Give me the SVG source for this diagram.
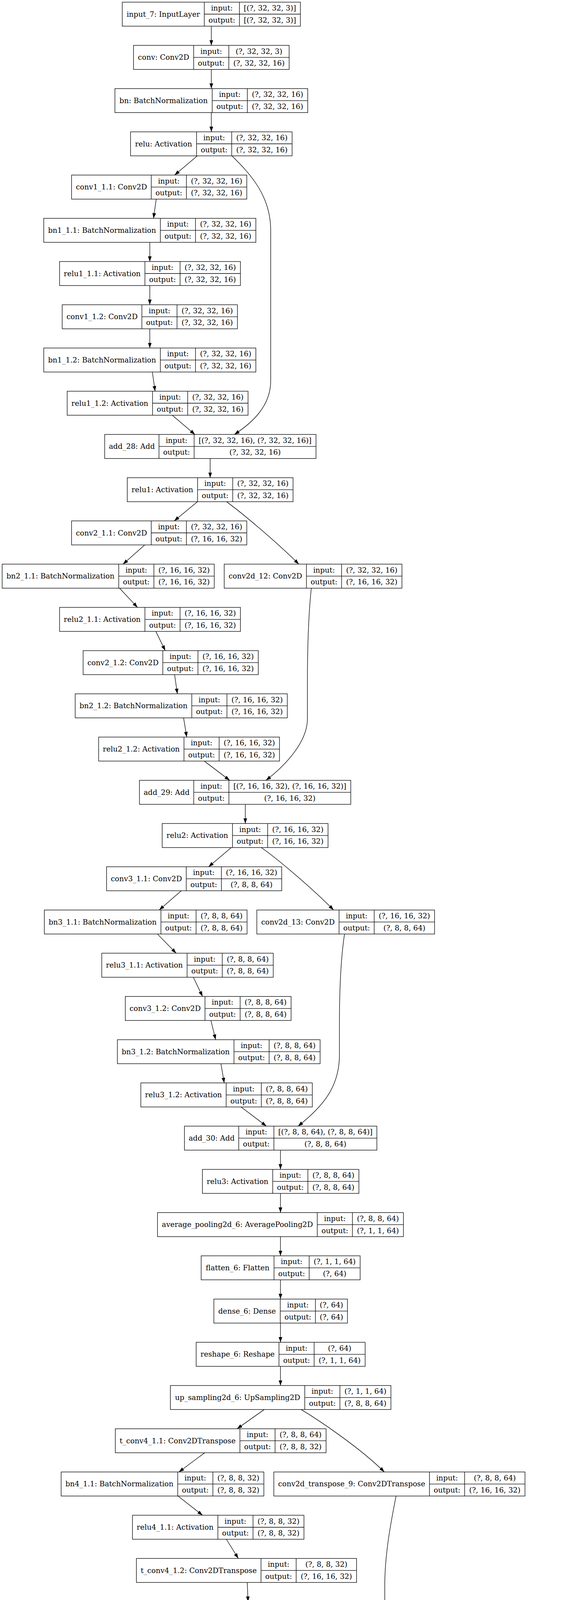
<svg xmlns="http://www.w3.org/2000/svg" width="1449" height="6381" viewBox="0 0 1449 6381">
<style>
.n rect{fill:#fff;stroke:#000;stroke-width:1.33}
.n path{fill:none;stroke:#000;stroke-width:1.33}
.n text{font-family:"DejaVu Serif","Liberation Serif",serif;font-size:18.67px;text-anchor:middle;fill:#000}
#edges path{fill:none;stroke:#000;stroke-width:1.33;marker-end:url(#arr)}
</style>
<defs>
<marker id="arr" markerUnits="userSpaceOnUse" viewBox="0 0 13.33 9.33" markerWidth="13.33" markerHeight="9.33" refX="13.33" refY="4.67" orient="auto"><path d="M0,0L13.33,4.67L0,9.33Z" fill="#000"/></marker>
</defs>
<rect width="1449" height="6381" fill="#fff"/>
<g id="edges">
<path d="M541,67L541,116.2"/>
<path d="M541,177.7L541,226.8"/>
<path d="M541,288.3L541,337.5"/>
<path d="M505,399L447,448.2"/>
<path d="M594,399C640,445 693,500 693,590L693,975C693,1040 645,1083 600,1112.2"/>
<path d="M400,509.7L393,558.9"/>
<path d="M383.5,620.4L383.5,669.5"/>
<path d="M383.5,731L383.5,780.2"/>
<path d="M383.5,841.7L383.5,890.9"/>
<path d="M390,952.4L397,1001.5"/>
<path d="M441,1063L499,1112.2"/>
<path d="M538,1173.7L538,1222.9"/>
<path d="M505.5,1284.4L446,1333.5"/>
<path d="M580,1284.4C615,1310 700,1380 765,1444.2"/>
<path d="M370.6,1395L315,1444.2"/>
<path d="M306,1505.7L352,1554.9"/>
<path d="M399,1616.4L423,1665.6"/>
<path d="M447,1727.1L454,1776.2"/>
<path d="M797,1505.7C790,1570 787,1650 787,1750L787,1840C787,1900 730,1960 681,1997.6"/>
<path d="M470,1837.7L478,1886.9"/>
<path d="M523,1948.4L588,1997.6"/>
<path d="M628,2059.1L628,2108.2"/>
<path d="M592,2169.7L534,2218.9"/>
<path d="M669,2169.7C705,2195 790,2265 854,2329.6"/>
<path d="M464,2280.4L407.6,2329.6"/>
<path d="M403,2391.1L451,2440.2"/>
<path d="M495,2501.7L518.5,2550.9"/>
<path d="M540,2612.4L552,2661.6"/>
<path d="M565.6,2723.1L574,2772.3"/>
<path d="M617,2833.8L682,2882.9"/>
<path d="M882,2391.1C873,2450 869,2530 869,2620L869,2700C869,2780 830,2830 763,2882.9"/>
<path d="M718,2944.4L718,2993.6"/>
<path d="M718,3055.1L718,3104.3"/>
<path d="M718,3165.8L718,3214.9"/>
<path d="M718,3276.4L718,3325.6"/>
<path d="M718,3387.1L718,3436.3"/>
<path d="M718,3497.8L718,3546.9"/>
<path d="M676.5,3608.4L607,3657.6"/>
<path d="M771,3608.4C815,3635 920,3705 984,3768.3"/>
<path d="M524,3719.1L458,3768.3"/>
<path d="M455.6,3829.8L518.5,3879"/>
<path d="M579.5,3940.5L610,3989.6"/>
<path d="M633,4051.1L635,4100.3"/>
<path d="M643,4161.8L650.6,4211"/>
<path d="M699,4272.5L763,4321.6"/>
<path d="M1014,3829.8C1000,3900 985,3980 985,4060L985,4150C985,4220 940,4270 855,4321.6"/>
<path d="M804,4383.1L804,4432.3"/>
<path d="M760,4493.8L690,4543"/>
<path d="M861,4493.8C905,4520 1015,4590 1079.5,4653.6"/>
<path d="M601.7,4604.5L536,4653.6"/>
<path d="M535,4715.1L601,4764.3"/>
<path d="M665.4,4825.8L696,4875"/>
<path d="M722,4936.5L723.6,4985.7"/>
<path d="M732,5047.2L739,5096.3"/>
<path d="M787,5157.8L852,5207"/>
<path d="M1106,4715.1C1090,4790 1077,4880 1077,4960L1077,5010C1077,5100 1030,5150 944.5,5207"/>
<path d="M893,5268.5L893,5317.7"/>
<path d="M848,5379.2L781,5428.3"/>
<path d="M968.6,5379.2C1025,5410 1053.6,5460 1053.6,5520L1053.6,5950C1053.6,6010 1010,6055 956.6,6092.4"/>
<path d="M734,5489.8L734,5539"/>
<path d="M733,5600.5L733,5649.7"/>
<path d="M733,5711.2L733,5760.3"/>
<path d="M735,5821.8L736.6,5871"/>
<path d="M746,5932.5L755,5981.7"/>
<path d="M802,6043.2L861,6092.4"/>
<path d="M898,6153.9L898,6203"/>
<path d="M898,6264.5L898,6313.7"/>
</g>
<g id="input_7" class="n" transform="translate(313,5.5)"><rect width="456" height="61.5"/><path d="M210,0V61.5M300,0V61.5M210,30.75H456"/><text x="105" y="37">input_7: InputLayer</text><text x="255" y="21.5">input:</text><text x="255" y="52.3">output:</text><text x="378" y="21.5">[(?, 32, 32, 3)]</text><text x="378" y="52.3">[(?, 32, 32, 3)]</text></g>
<g id="conv" class="n" transform="translate(341.75,116.2)"><rect width="398.5" height="61.5"/><path d="M154,0V61.5M244,0V61.5M154,30.75H398.5"/><text x="77" y="37">conv: Conv2D</text><text x="199" y="21.5">input:</text><text x="199" y="52.3">output:</text><text x="321.25" y="21.5">(?, 32, 32, 3)</text><text x="321.25" y="52.3">(?, 32, 32, 16)</text></g>
<g id="bn" class="n" transform="translate(294.25,226.8)"><rect width="493.5" height="61.5"/><path d="M249,0V61.5M339,0V61.5M249,30.75H493.5"/><text x="124.5" y="37">bn: BatchNormalization</text><text x="294" y="21.5">input:</text><text x="294" y="52.3">output:</text><text x="416.25" y="21.5">(?, 32, 32, 16)</text><text x="416.25" y="52.3">(?, 32, 32, 16)</text></g>
<g id="relu" class="n" transform="translate(334.25,337.5)"><rect width="413.5" height="61.5"/><path d="M169,0V61.5M259,0V61.5M169,30.75H413.5"/><text x="84.5" y="37">relu: Activation</text><text x="214" y="21.5">input:</text><text x="214" y="52.3">output:</text><text x="336.25" y="21.5">(?, 32, 32, 16)</text><text x="336.25" y="52.3">(?, 32, 32, 16)</text></g>
<g id="conv1_1.1" class="n" transform="translate(183.25,448.2)"><rect width="448.5" height="61.5"/><path d="M204,0V61.5M294,0V61.5M204,30.75H448.5"/><text x="102" y="37">conv1_1.1: Conv2D</text><text x="249" y="21.5">input:</text><text x="249" y="52.3">output:</text><text x="371.25" y="21.5">(?, 32, 32, 16)</text><text x="371.25" y="52.3">(?, 32, 32, 16)</text></g>
<g id="bn1_1.1" class="n" transform="translate(112,558.9)"><rect width="543" height="61.5"/><path d="M298.5,0V61.5M388.5,0V61.5M298.5,30.75H543"/><text x="149.25" y="37">bn1_1.1: BatchNormalization</text><text x="343.5" y="21.5">input:</text><text x="343.5" y="52.3">output:</text><text x="465.75" y="21.5">(?, 32, 32, 16)</text><text x="465.75" y="52.3">(?, 32, 32, 16)</text></g>
<g id="relu1_1.1" class="n" transform="translate(152.5,669.5)"><rect width="463" height="61.5"/><path d="M218.5,0V61.5M308.5,0V61.5M218.5,30.75H463"/><text x="109.25" y="37">relu1_1.1: Activation</text><text x="263.5" y="21.5">input:</text><text x="263.5" y="52.3">output:</text><text x="385.75" y="21.5">(?, 32, 32, 16)</text><text x="385.75" y="52.3">(?, 32, 32, 16)</text></g>
<g id="conv1_1.2" class="n" transform="translate(159.25,780.2)"><rect width="448.5" height="61.5"/><path d="M204,0V61.5M294,0V61.5M204,30.75H448.5"/><text x="102" y="37">conv1_1.2: Conv2D</text><text x="249" y="21.5">input:</text><text x="249" y="52.3">output:</text><text x="371.25" y="21.5">(?, 32, 32, 16)</text><text x="371.25" y="52.3">(?, 32, 32, 16)</text></g>
<g id="bn1_1.2" class="n" transform="translate(112,890.9)"><rect width="543" height="61.5"/><path d="M298.5,0V61.5M388.5,0V61.5M298.5,30.75H543"/><text x="149.25" y="37">bn1_1.2: BatchNormalization</text><text x="343.5" y="21.5">input:</text><text x="343.5" y="52.3">output:</text><text x="465.75" y="21.5">(?, 32, 32, 16)</text><text x="465.75" y="52.3">(?, 32, 32, 16)</text></g>
<g id="relu1_1.2" class="n" transform="translate(172,1001.5)"><rect width="463" height="61.5"/><path d="M218.5,0V61.5M308.5,0V61.5M218.5,30.75H463"/><text x="109.25" y="37">relu1_1.2: Activation</text><text x="263.5" y="21.5">input:</text><text x="263.5" y="52.3">output:</text><text x="385.75" y="21.5">(?, 32, 32, 16)</text><text x="385.75" y="52.3">(?, 32, 32, 16)</text></g>
<g id="add_28" class="n" transform="translate(268,1112.2)"><rect width="541" height="61.5"/><path d="M139,0V61.5M229,0V61.5M139,30.75H541"/><text x="69.5" y="37">add_28: Add</text><text x="184" y="21.5">input:</text><text x="184" y="52.3">output:</text><text x="385" y="21.5">[(?, 32, 32, 16), (?, 32, 32, 16)]</text><text x="385" y="52.3">(?, 32, 32, 16)</text></g>
<g id="relu1" class="n" transform="translate(325.75,1222.9)"><rect width="424.5" height="61.5"/><path d="M180,0V61.5M270,0V61.5M180,30.75H424.5"/><text x="90" y="37">relu1: Activation</text><text x="225" y="21.5">input:</text><text x="225" y="52.3">output:</text><text x="347.25" y="21.5">(?, 32, 32, 16)</text><text x="347.25" y="52.3">(?, 32, 32, 16)</text></g>
<g id="conv2_1.1" class="n" transform="translate(183.25,1333.5)"><rect width="448.5" height="61.5"/><path d="M204,0V61.5M294,0V61.5M204,30.75H448.5"/><text x="102" y="37">conv2_1.1: Conv2D</text><text x="249" y="21.5">input:</text><text x="249" y="52.3">output:</text><text x="371.25" y="21.5">(?, 32, 32, 16)</text><text x="371.25" y="52.3">(?, 16, 16, 32)</text></g>
<g id="bn2_1.1" class="n" transform="translate(5.5,1444.2)"><rect width="543" height="61.5"/><path d="M298.5,0V61.5M388.5,0V61.5M298.5,30.75H543"/><text x="149.25" y="37">bn2_1.1: BatchNormalization</text><text x="343.5" y="21.5">input:</text><text x="343.5" y="52.3">output:</text><text x="465.75" y="21.5">(?, 16, 16, 32)</text><text x="465.75" y="52.3">(?, 16, 16, 32)</text></g>
<g id="conv2d_12" class="n" transform="translate(574,1444.2)"><rect width="455" height="61.5"/><path d="M210.5,0V61.5M300.5,0V61.5M210.5,30.75H455"/><text x="105.25" y="37">conv2d_12: Conv2D</text><text x="255.5" y="21.5">input:</text><text x="255.5" y="52.3">output:</text><text x="377.75" y="21.5">(?, 32, 32, 16)</text><text x="377.75" y="52.3">(?, 16, 16, 32)</text></g>
<g id="relu2_1.1" class="n" transform="translate(152.5,1554.9)"><rect width="463" height="61.5"/><path d="M218.5,0V61.5M308.5,0V61.5M218.5,30.75H463"/><text x="109.25" y="37">relu2_1.1: Activation</text><text x="263.5" y="21.5">input:</text><text x="263.5" y="52.3">output:</text><text x="385.75" y="21.5">(?, 16, 16, 32)</text><text x="385.75" y="52.3">(?, 16, 16, 32)</text></g>
<g id="conv2_1.2" class="n" transform="translate(212.75,1665.6)"><rect width="448.5" height="61.5"/><path d="M204,0V61.5M294,0V61.5M204,30.75H448.5"/><text x="102" y="37">conv2_1.2: Conv2D</text><text x="249" y="21.5">input:</text><text x="249" y="52.3">output:</text><text x="371.25" y="21.5">(?, 16, 16, 32)</text><text x="371.25" y="52.3">(?, 16, 16, 32)</text></g>
<g id="bn2_1.2" class="n" transform="translate(192.5,1776.2)"><rect width="543" height="61.5"/><path d="M298.5,0V61.5M388.5,0V61.5M298.5,30.75H543"/><text x="149.25" y="37">bn2_1.2: BatchNormalization</text><text x="343.5" y="21.5">input:</text><text x="343.5" y="52.3">output:</text><text x="465.75" y="21.5">(?, 16, 16, 32)</text><text x="465.75" y="52.3">(?, 16, 16, 32)</text></g>
<g id="relu2_1.2" class="n" transform="translate(252.5,1886.9)"><rect width="463" height="61.5"/><path d="M218.5,0V61.5M308.5,0V61.5M218.5,30.75H463"/><text x="109.25" y="37">relu2_1.2: Activation</text><text x="263.5" y="21.5">input:</text><text x="263.5" y="52.3">output:</text><text x="385.75" y="21.5">(?, 16, 16, 32)</text><text x="385.75" y="52.3">(?, 16, 16, 32)</text></g>
<g id="add_29" class="n" transform="translate(357,1997.6)"><rect width="541" height="61.5"/><path d="M139,0V61.5M229,0V61.5M139,30.75H541"/><text x="69.5" y="37">add_29: Add</text><text x="184" y="21.5">input:</text><text x="184" y="52.3">output:</text><text x="385" y="21.5">[(?, 16, 16, 32), (?, 16, 16, 32)]</text><text x="385" y="52.3">(?, 16, 16, 32)</text></g>
<g id="relu2" class="n" transform="translate(415.25,2108.2)"><rect width="424.5" height="61.5"/><path d="M180,0V61.5M270,0V61.5M180,30.75H424.5"/><text x="90" y="37">relu2: Activation</text><text x="225" y="21.5">input:</text><text x="225" y="52.3">output:</text><text x="347.25" y="21.5">(?, 16, 16, 32)</text><text x="347.25" y="52.3">(?, 16, 16, 32)</text></g>
<g id="conv3_1.1" class="n" transform="translate(272.75,2218.9)"><rect width="448.5" height="61.5"/><path d="M204,0V61.5M294,0V61.5M204,30.75H448.5"/><text x="102" y="37">conv3_1.1: Conv2D</text><text x="249" y="21.5">input:</text><text x="249" y="52.3">output:</text><text x="371.25" y="21.5">(?, 16, 16, 32)</text><text x="371.25" y="52.3">(?, 8, 8, 64)</text></g>
<g id="bn3_1.1" class="n" transform="translate(113.5,2329.6)"><rect width="519" height="61.5"/><path d="M298.5,0V61.5M388.5,0V61.5M298.5,30.75H519"/><text x="149.25" y="37">bn3_1.1: BatchNormalization</text><text x="343.5" y="21.5">input:</text><text x="343.5" y="52.3">output:</text><text x="453.75" y="21.5">(?, 8, 8, 64)</text><text x="453.75" y="52.3">(?, 8, 8, 64)</text></g>
<g id="conv2d_13" class="n" transform="translate(657.5,2329.6)"><rect width="455" height="61.5"/><path d="M210.5,0V61.5M300.5,0V61.5M210.5,30.75H455"/><text x="105.25" y="37">conv2d_13: Conv2D</text><text x="255.5" y="21.5">input:</text><text x="255.5" y="52.3">output:</text><text x="377.75" y="21.5">(?, 16, 16, 32)</text><text x="377.75" y="52.3">(?, 8, 8, 64)</text></g>
<g id="relu3_1.1" class="n" transform="translate(260.5,2440.2)"><rect width="439" height="61.5"/><path d="M218.5,0V61.5M308.5,0V61.5M218.5,30.75H439"/><text x="109.25" y="37">relu3_1.1: Activation</text><text x="263.5" y="21.5">input:</text><text x="263.5" y="52.3">output:</text><text x="373.75" y="21.5">(?, 8, 8, 64)</text><text x="373.75" y="52.3">(?, 8, 8, 64)</text></g>
<g id="conv3_1.2" class="n" transform="translate(320.75,2550.9)"><rect width="424.5" height="61.5"/><path d="M204,0V61.5M294,0V61.5M204,30.75H424.5"/><text x="102" y="37">conv3_1.2: Conv2D</text><text x="249" y="21.5">input:</text><text x="249" y="52.3">output:</text><text x="359.25" y="21.5">(?, 8, 8, 64)</text><text x="359.25" y="52.3">(?, 8, 8, 64)</text></g>
<g id="bn3_1.2" class="n" transform="translate(300.5,2661.6)"><rect width="519" height="61.5"/><path d="M298.5,0V61.5M388.5,0V61.5M298.5,30.75H519"/><text x="149.25" y="37">bn3_1.2: BatchNormalization</text><text x="343.5" y="21.5">input:</text><text x="343.5" y="52.3">output:</text><text x="453.75" y="21.5">(?, 8, 8, 64)</text><text x="453.75" y="52.3">(?, 8, 8, 64)</text></g>
<g id="relu3_1.2" class="n" transform="translate(360.5,2772.3)"><rect width="439" height="61.5"/><path d="M218.5,0V61.5M308.5,0V61.5M218.5,30.75H439"/><text x="109.25" y="37">relu3_1.2: Activation</text><text x="263.5" y="21.5">input:</text><text x="263.5" y="52.3">output:</text><text x="373.75" y="21.5">(?, 8, 8, 64)</text><text x="373.75" y="52.3">(?, 8, 8, 64)</text></g>
<g id="add_30" class="n" transform="translate(472.25,2882.9)"><rect width="492.5" height="61.5"/><path d="M139,0V61.5M229,0V61.5M139,30.75H492.5"/><text x="69.5" y="37">add_30: Add</text><text x="184" y="21.5">input:</text><text x="184" y="52.3">output:</text><text x="360.75" y="21.5">[(?, 8, 8, 64), (?, 8, 8, 64)]</text><text x="360.75" y="52.3">(?, 8, 8, 64)</text></g>
<g id="relu3" class="n" transform="translate(518.25,2993.6)"><rect width="400.5" height="61.5"/><path d="M180,0V61.5M270,0V61.5M180,30.75H400.5"/><text x="90" y="37">relu3: Activation</text><text x="225" y="21.5">input:</text><text x="225" y="52.3">output:</text><text x="335.25" y="21.5">(?, 8, 8, 64)</text><text x="335.25" y="52.3">(?, 8, 8, 64)</text></g>
<g id="average_pooling2d_6" class="n" transform="translate(403.25,3104.3)"><rect width="629.5" height="61.5"/><path d="M409,0V61.5M499,0V61.5M409,30.75H629.5"/><text x="204.5" y="37">average_pooling2d_6: AveragePooling2D</text><text x="454" y="21.5">input:</text><text x="454" y="52.3">output:</text><text x="564.25" y="21.5">(?, 8, 8, 64)</text><text x="564.25" y="52.3">(?, 1, 1, 64)</text></g>
<g id="flatten_6" class="n" transform="translate(515,3214.9)"><rect width="407" height="61.5"/><path d="M186.5,0V61.5M276.5,0V61.5M186.5,30.75H407"/><text x="93.25" y="37">flatten_6: Flatten</text><text x="231.5" y="21.5">input:</text><text x="231.5" y="52.3">output:</text><text x="341.75" y="21.5">(?, 1, 1, 64)</text><text x="341.75" y="52.3">(?, 64)</text></g>
<g id="dense_6" class="n" transform="translate(547.5,3325.6)"><rect width="342" height="61.5"/><path d="M170,0V61.5M260,0V61.5M170,30.75H342"/><text x="85" y="37">dense_6: Dense</text><text x="215" y="21.5">input:</text><text x="215" y="52.3">output:</text><text x="301" y="21.5">(?, 64)</text><text x="301" y="52.3">(?, 64)</text></g>
<g id="reshape_6" class="n" transform="translate(502.25,3436.3)"><rect width="432.5" height="61.5"/><path d="M212,0V61.5M302,0V61.5M212,30.75H432.5"/><text x="106" y="37">reshape_6: Reshape</text><text x="257" y="21.5">input:</text><text x="257" y="52.3">output:</text><text x="367.25" y="21.5">(?, 64)</text><text x="367.25" y="52.3">(?, 1, 1, 64)</text></g>
<g id="up_sampling2d_6" class="n" transform="translate(436.25,3546.9)"><rect width="564.5" height="61.5"/><path d="M344,0V61.5M434,0V61.5M344,30.75H564.5"/><text x="172" y="37">up_sampling2d_6: UpSampling2D</text><text x="389" y="21.5">input:</text><text x="389" y="52.3">output:</text><text x="499.25" y="21.5">(?, 1, 1, 64)</text><text x="499.25" y="52.3">(?, 8, 8, 64)</text></g>
<g id="t_conv4_1.1" class="n" transform="translate(295.25,3657.6)"><rect width="539.5" height="61.5"/><path d="M319,0V61.5M409,0V61.5M319,30.75H539.5"/><text x="159.5" y="37">t_conv4_1.1: Conv2DTranspose</text><text x="364" y="21.5">input:</text><text x="364" y="52.3">output:</text><text x="474.25" y="21.5">(?, 8, 8, 64)</text><text x="474.25" y="52.3">(?, 8, 8, 32)</text></g>
<g id="bn4_1.1" class="n" transform="translate(156.5,3768.3)"><rect width="519" height="61.5"/><path d="M298.5,0V61.5M388.5,0V61.5M298.5,30.75H519"/><text x="149.25" y="37">bn4_1.1: BatchNormalization</text><text x="343.5" y="21.5">input:</text><text x="343.5" y="52.3">output:</text><text x="453.75" y="21.5">(?, 8, 8, 32)</text><text x="453.75" y="52.3">(?, 8, 8, 32)</text></g>
<g id="conv2d_transpose_9" class="n" transform="translate(701,3768.3)"><rect width="643" height="61.5"/><path d="M398.5,0V61.5M488.5,0V61.5M398.5,30.75H643"/><text x="199.25" y="37">conv2d_transpose_9: Conv2DTranspose</text><text x="443.5" y="21.5">input:</text><text x="443.5" y="52.3">output:</text><text x="565.75" y="21.5">(?, 8, 8, 64)</text><text x="565.75" y="52.3">(?, 16, 16, 32)</text></g>
<g id="relu4_1.1" class="n" transform="translate(339.2,3879)"><rect width="439" height="61.5"/><path d="M218.5,0V61.5M308.5,0V61.5M218.5,30.75H439"/><text x="109.25" y="37">relu4_1.1: Activation</text><text x="263.5" y="21.5">input:</text><text x="263.5" y="52.3">output:</text><text x="373.75" y="21.5">(?, 8, 8, 32)</text><text x="373.75" y="52.3">(?, 8, 8, 32)</text></g>
<g id="t_conv4_1.2" class="n" transform="translate(349.25,3989.6)"><rect width="563.5" height="61.5"/><path d="M319,0V61.5M409,0V61.5M319,30.75H563.5"/><text x="159.5" y="37">t_conv4_1.2: Conv2DTranspose</text><text x="364" y="21.5">input:</text><text x="364" y="52.3">output:</text><text x="486.25" y="21.5">(?, 8, 8, 32)</text><text x="486.25" y="52.3">(?, 16, 16, 32)</text></g>
<g id="bn4_1.2" class="n" transform="translate(364.5,4100.3)"><rect width="543" height="61.5"/><path d="M298.5,0V61.5M388.5,0V61.5M298.5,30.75H543"/><text x="149.25" y="37">bn4_1.2: BatchNormalization</text><text x="343.5" y="21.5">input:</text><text x="343.5" y="52.3">output:</text><text x="465.75" y="21.5">(?, 16, 16, 32)</text><text x="465.75" y="52.3">(?, 16, 16, 32)</text></g>
<g id="relu4_1.2" class="n" transform="translate(427,4211)"><rect width="463" height="61.5"/><path d="M218.5,0V61.5M308.5,0V61.5M218.5,30.75H463"/><text x="109.25" y="37">relu4_1.2: Activation</text><text x="263.5" y="21.5">input:</text><text x="263.5" y="52.3">output:</text><text x="385.75" y="21.5">(?, 16, 16, 32)</text><text x="385.75" y="52.3">(?, 16, 16, 32)</text></g>
<g id="add_31" class="n" transform="translate(533.2,4321.6)"><rect width="541" height="61.5"/><path d="M139,0V61.5M229,0V61.5M139,30.75H541"/><text x="69.5" y="37">add_31: Add</text><text x="184" y="21.5">input:</text><text x="184" y="52.3">output:</text><text x="385" y="21.5">[(?, 16, 16, 32), (?, 16, 16, 32)]</text><text x="385" y="52.3">(?, 16, 16, 32)</text></g>
<g id="relu4" class="n" transform="translate(591.75,4432.3)"><rect width="424.5" height="61.5"/><path d="M180,0V61.5M270,0V61.5M180,30.75H424.5"/><text x="90" y="37">relu4: Activation</text><text x="225" y="21.5">input:</text><text x="225" y="52.3">output:</text><text x="347.25" y="21.5">(?, 16, 16, 32)</text><text x="347.25" y="52.3">(?, 16, 16, 32)</text></g>
<g id="t_conv5_1.1" class="n" transform="translate(362,4543)"><rect width="563.5" height="61.5"/><path d="M319,0V61.5M409,0V61.5M319,30.75H563.5"/><text x="159.5" y="37">t_conv5_1.1: Conv2DTranspose</text><text x="364" y="21.5">input:</text><text x="364" y="52.3">output:</text><text x="486.25" y="21.5">(?, 16, 16, 32)</text><text x="486.25" y="52.3">(?, 16, 16, 16)</text></g>
<g id="bn5_1.1" class="n" transform="translate(220.5,4653.6)"><rect width="543" height="61.5"/><path d="M298.5,0V61.5M388.5,0V61.5M298.5,30.75H543"/><text x="149.25" y="37">bn5_1.1: BatchNormalization</text><text x="343.5" y="21.5">input:</text><text x="343.5" y="52.3">output:</text><text x="465.75" y="21.5">(?, 16, 16, 16)</text><text x="465.75" y="52.3">(?, 16, 16, 16)</text></g>
<g id="conv2d_transpose_10" class="n" transform="translate(788.25,4653.6)"><rect width="655.5" height="61.5"/><path d="M411,0V61.5M501,0V61.5M411,30.75H655.5"/><text x="205.5" y="37">conv2d_transpose_10: Conv2DTranspose</text><text x="456" y="21.5">input:</text><text x="456" y="52.3">output:</text><text x="578.25" y="21.5">(?, 16, 16, 32)</text><text x="578.25" y="52.3">(?, 32, 32, 16)</text></g>
<g id="relu5_1.1" class="n" transform="translate(412.2,4764.3)"><rect width="463" height="61.5"/><path d="M218.5,0V61.5M308.5,0V61.5M218.5,30.75H463"/><text x="109.25" y="37">relu5_1.1: Activation</text><text x="263.5" y="21.5">input:</text><text x="263.5" y="52.3">output:</text><text x="385.75" y="21.5">(?, 16, 16, 16)</text><text x="385.75" y="52.3">(?, 16, 16, 16)</text></g>
<g id="t_conv5_1.2" class="n" transform="translate(437.85,4875)"><rect width="563.5" height="61.5"/><path d="M319,0V61.5M409,0V61.5M319,30.75H563.5"/><text x="159.5" y="37">t_conv5_1.2: Conv2DTranspose</text><text x="364" y="21.5">input:</text><text x="364" y="52.3">output:</text><text x="486.25" y="21.5">(?, 16, 16, 16)</text><text x="486.25" y="52.3">(?, 32, 32, 16)</text></g>
<g id="bn5_1.2" class="n" transform="translate(453.5,4985.7)"><rect width="543" height="61.5"/><path d="M298.5,0V61.5M388.5,0V61.5M298.5,30.75H543"/><text x="149.25" y="37">bn5_1.2: BatchNormalization</text><text x="343.5" y="21.5">input:</text><text x="343.5" y="52.3">output:</text><text x="465.75" y="21.5">(?, 32, 32, 16)</text><text x="465.75" y="52.3">(?, 32, 32, 16)</text></g>
<g id="relu5_1.2" class="n" transform="translate(516.5,5096.3)"><rect width="463" height="61.5"/><path d="M218.5,0V61.5M308.5,0V61.5M218.5,30.75H463"/><text x="109.25" y="37">relu5_1.2: Activation</text><text x="263.5" y="21.5">input:</text><text x="263.5" y="52.3">output:</text><text x="385.75" y="21.5">(?, 32, 32, 16)</text><text x="385.75" y="52.3">(?, 32, 32, 16)</text></g>
<g id="add_32" class="n" transform="translate(622.5,5207)"><rect width="541" height="61.5"/><path d="M139,0V61.5M229,0V61.5M139,30.75H541"/><text x="69.5" y="37">add_32: Add</text><text x="184" y="21.5">input:</text><text x="184" y="52.3">output:</text><text x="385" y="21.5">[(?, 32, 32, 16), (?, 32, 32, 16)]</text><text x="385" y="52.3">(?, 32, 32, 16)</text></g>
<g id="relu5" class="n" transform="translate(681.25,5317.7)"><rect width="424.5" height="61.5"/><path d="M180,0V61.5M270,0V61.5M180,30.75H424.5"/><text x="90" y="37">relu5: Activation</text><text x="225" y="21.5">input:</text><text x="225" y="52.3">output:</text><text x="347.25" y="21.5">(?, 32, 32, 16)</text><text x="347.25" y="52.3">(?, 32, 32, 16)</text></g>
<g id="t_conv6_1.1" class="n" transform="translate(451.25,5428.3)"><rect width="563.5" height="61.5"/><path d="M319,0V61.5M409,0V61.5M319,30.75H563.5"/><text x="159.5" y="37">t_conv6_1.1: Conv2DTranspose</text><text x="364" y="21.5">input:</text><text x="364" y="52.3">output:</text><text x="486.25" y="21.5">(?, 32, 32, 16)</text><text x="486.25" y="52.3">(?, 32, 32, 16)</text></g>
<g id="bn6_1.1" class="n" transform="translate(461.5,5539)"><rect width="543" height="61.5"/><path d="M298.5,0V61.5M388.5,0V61.5M298.5,30.75H543"/><text x="149.25" y="37">bn6_1.1: BatchNormalization</text><text x="343.5" y="21.5">input:</text><text x="343.5" y="52.3">output:</text><text x="465.75" y="21.5">(?, 32, 32, 16)</text><text x="465.75" y="52.3">(?, 32, 32, 16)</text></g>
<g id="relu6_1.1" class="n" transform="translate(502,5649.7)"><rect width="463" height="61.5"/><path d="M218.5,0V61.5M308.5,0V61.5M218.5,30.75H463"/><text x="109.25" y="37">relu6_1.1: Activation</text><text x="263.5" y="21.5">input:</text><text x="263.5" y="52.3">output:</text><text x="385.75" y="21.5">(?, 32, 32, 16)</text><text x="385.75" y="52.3">(?, 32, 32, 16)</text></g>
<g id="t_conv6_1.2" class="n" transform="translate(451.25,5760.3)"><rect width="563.5" height="61.5"/><path d="M319,0V61.5M409,0V61.5M319,30.75H563.5"/><text x="159.5" y="37">t_conv6_1.2: Conv2DTranspose</text><text x="364" y="21.5">input:</text><text x="364" y="52.3">output:</text><text x="486.25" y="21.5">(?, 32, 32, 16)</text><text x="486.25" y="52.3">(?, 32, 32, 16)</text></g>
<g id="bn6_1.2" class="n" transform="translate(467,5871)"><rect width="543" height="61.5"/><path d="M298.5,0V61.5M388.5,0V61.5M298.5,30.75H543"/><text x="149.25" y="37">bn6_1.2: BatchNormalization</text><text x="343.5" y="21.5">input:</text><text x="343.5" y="52.3">output:</text><text x="465.75" y="21.5">(?, 32, 32, 16)</text><text x="465.75" y="52.3">(?, 32, 32, 16)</text></g>
<g id="relu6_1.2" class="n" transform="translate(532.3,5981.7)"><rect width="463" height="61.5"/><path d="M218.5,0V61.5M308.5,0V61.5M218.5,30.75H463"/><text x="109.25" y="37">relu6_1.2: Activation</text><text x="263.5" y="21.5">input:</text><text x="263.5" y="52.3">output:</text><text x="385.75" y="21.5">(?, 32, 32, 16)</text><text x="385.75" y="52.3">(?, 32, 32, 16)</text></g>
<g id="add_33" class="n" transform="translate(627.9,6092.4)"><rect width="541" height="61.5"/><path d="M139,0V61.5M229,0V61.5M139,30.75H541"/><text x="69.5" y="37">add_33: Add</text><text x="184" y="21.5">input:</text><text x="184" y="52.3">output:</text><text x="385" y="21.5">[(?, 32, 32, 16), (?, 32, 32, 16)]</text><text x="385" y="52.3">(?, 32, 32, 16)</text></g>
<g id="relu6" class="n" transform="translate(685.75,6203)"><rect width="424.5" height="61.5"/><path d="M180,0V61.5M270,0V61.5M180,30.75H424.5"/><text x="90" y="37">relu6: Activation</text><text x="225" y="21.5">input:</text><text x="225" y="52.3">output:</text><text x="347.25" y="21.5">(?, 32, 32, 16)</text><text x="347.25" y="52.3">(?, 32, 32, 16)</text></g>
<g id="conv2d_transpose_11" class="n" transform="translate(571.55,6313.7)"><rect width="654.5" height="61.5"/><path d="M410,0V61.5M500,0V61.5M410,30.75H654.5"/><text x="205" y="37">conv2d_transpose_11: Conv2DTranspose</text><text x="455" y="21.5">input:</text><text x="455" y="52.3">output:</text><text x="577.25" y="21.5">(?, 32, 32, 16)</text><text x="577.25" y="52.3">(?, 32, 32, 3)</text></g>
</svg>
